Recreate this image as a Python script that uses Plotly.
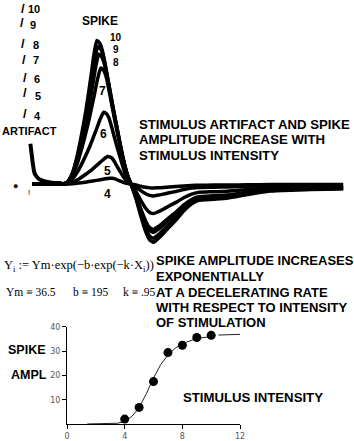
import plotly.graph_objects as go

W, H = 354, 441

# ---------------- top panel: evoked responses ----------------
intensities = [4, 5, 6, 7, 8, 9, 10]
spike_amp = [6, 28, 73, 118, 132, 140, 146]       # spike peak height per intensity
spike_peak_time = [109, 107, 103, 100, 98, 97, 96]  # time of spike peak per intensity
trough_depth = [4, 12, 30, 46, 49, 55, 59]        # after-trough depth per intensity

resp_time = [30, 40, 50, 60, 65, 70, 75, 80, 85, 90, 93, 96, 99, 102, 106, 110,
             113, 117, 121, 125, 128, 131, 136, 141, 146, 150, 154, 158, 164,
             170, 177, 185, 193, 200, 215, 230, 250, 273, 300, 330, 348]
spike_shape = [0, 0, 0, 0, 0.01, 0.06, 0.17, 0.33, 0.52, 0.75, 0.9, 1.0, 0.98,
               0.92, 0.78, 0.63, 0.52, 0.38, 0.24, 0.12, 0.05, 0] + [0] * 19
trough_shape = [0] * 22 + [0.25, 0.55, 0.82, 0.96, 1.0, 0.95, 0.85, 0.74, 0.62,
                           0.46, 0.34, 0.28, 0.26, 0.24, 0.18, 0.12, 0.10, 0.09, 0.08]
template_peak_time = 96

artifact_time = [28, 29, 30.5, 32, 34, 37, 42, 50, 60]
artifact_amp = [41, 33, 21, 12, 8, 5, 3, 1.5, 1]

# ---------------- bottom panel: input/output curve ----------------
stim_x = [4, 5, 6, 7, 8, 9, 10]
stim_y = [2.1, 6.9, 17.5, 29.4, 32.4, 35.6, 36.5]
fit_x = [1.4, 3.5, 4.0, 4.5, 5.0, 5.5, 6.0, 6.5, 7.0, 7.5, 8.0, 9.0, 10.0, None, 10.5, 12.0]
fit_y = [0.1, 0.4, 1.2, 3.2, 6.8, 12.5, 19.0, 24.5, 28.4, 31.2, 33.1, 35.2, 36.0, None, 36.6, 36.9]
x_ticks = [0, 4, 8, 12]
y_ticks = [10, 20, 30, 40]

fig = go.Figure()

for amp, pk, dep in zip(spike_amp, spike_peak_time, trough_depth):
    lag = pk - template_peak_time
    xs = [t + lag * s for t, s in zip(resp_time, spike_shape)]
    ys = [amp * s - dep * t for s, t in zip(spike_shape, trough_shape)]
    fig.add_trace(go.Scatter(x=xs, y=ys, mode="lines",
                             line=dict(color="black", width=3.5, shape="spline", smoothing=0.5),
                             xaxis="x", yaxis="y", hoverinfo="skip"))
fig.add_trace(go.Scatter(x=artifact_time, y=artifact_amp, mode="lines",
                         line=dict(color="black", width=4, shape="spline", smoothing=0.5),
                         xaxis="x", yaxis="y", hoverinfo="skip"))

fig.add_trace(go.Scatter(x=fit_x, y=fit_y, mode="lines",
                         line=dict(color="#222", width=1),
                         xaxis="x2", yaxis="y2", cliponaxis=False, connectgaps=False))
fig.add_trace(go.Scatter(x=stim_x, y=stim_y, mode="markers",
                         marker=dict(color="black", size=9),
                         xaxis="x2", yaxis="y2", cliponaxis=False))


def X(px):
    return px / W


def Y(py):
    return 1 - py / H


ann = []


def txt(s, x, y, size=13, family="Liberation Sans", bold=True, xanchor="left", color="black"):
    ann.append(dict(text=("<b>%s</b>" % s) if bold else s, x=X(x), y=Y(y),
                    xref="paper", yref="paper", xanchor=xanchor, yanchor="middle",
                    showarrow=False, font=dict(size=size, family=family, color=color)))


# top-left artifact tips
tips = [("10", 20, 5, 31.5, 5.5), ("9", 19.5, 19, 30.5, 21), ("8", 20, 40, 34, 42),
        ("7", 21, 56, 34, 57), ("6", 23, 75, 35, 76), ("5", 22.5, 90, 35.5, 93),
        ("4", 23, 111, 35.5, 114)]
for n, sx, sy, nx, ny in tips:
    txt("/", sx, sy, size=13, xanchor="center")
    txt(n, nx, ny, size=11, xanchor="center")
txt("ARTIFACT", -3, 129, size=11)
txt("SPIKE", 99, 17.5, size=12, xanchor="center")
txt("10", 116, 34, size=10, xanchor="center")
txt("9", 115.5, 46, size=10, xanchor="center")
txt("8", 115.5, 59, size=10, xanchor="center")
txt("7", 102, 88, size=12, xanchor="center")
txt("6", 103, 132, size=12, xanchor="center")
txt("5", 107, 170, size=12, xanchor="center")
txt("4", 107, 193.5, size=12, xanchor="center")
txt("●", 13, 185, size=9, bold=False, xanchor="center")
txt("!", 26.5, 192, size=8, bold=False, xanchor="center")

for s, y in [("STIMULUS ARTIFACT AND SPIKE", 122), ("AMPLITUDE INCREASE WITH", 138),
             ("STIMULUS INTENSITY", 154)]:
    txt(s, 137, y, size=13.2)

txt("Y<sub>i</sub> := Ym·exp(−b·exp(−k·X<sub>i</sub>))", -1, 266, size=12.5,
    family="Liberation Serif", bold=False)
txt("Ym ≡ 36.5", 1, 293, size=11.5, family="Liberation Serif", bold=False)
txt("b ≡ 195", 70, 293, size=11.5, family="Liberation Serif", bold=False)
txt("k ≡ .95", 121, 293, size=11.5, family="Liberation Serif", bold=False)

for s, x, y in [("SPIKE AMPLITUDE INCREASES", 154, 261), ("EXPONENTIALLY", 155, 277),
                ("AT A DECELERATING RATE", 155, 293.5), ("WITH RESPECT TO INTENSITY", 154, 308.5),
                ("OF STIMULATION", 154, 324)]:
    txt(s, x, y, size=13)

txt("SPIKE", 3, 352, size=12.5)
txt("AMPL", 6, 377, size=12.5)
txt("STIMULUS INTENSITY", 182, 400, size=13.2)

fig.update_layout(
    width=W, height=H, margin=dict(l=0, r=0, t=0, b=0),
    paper_bgcolor="white", plot_bgcolor="white", showlegend=False,
    xaxis=dict(domain=[0, 1], range=[0, W], visible=False, fixedrange=True),
    yaxis=dict(domain=[1 - 260 / H, 1], range=[183 - 260, 183], visible=False, fixedrange=True),
    xaxis2=dict(domain=[X(65.5), X(242.5)], range=[0, 12], anchor="y2",
                showline=True, linecolor="black", linewidth=1, showgrid=False, zeroline=False,
                ticks="outside", ticklen=4, tickcolor="black", tickvals=x_ticks,
                tickfont=dict(size=8, color="#555", family="DejaVu Sans")),
    yaxis2=dict(domain=[Y(427), Y(328)], range=[0, 40], anchor="x2",
                showline=True, linecolor="black", linewidth=1, showgrid=False, zeroline=False,
                ticks="outside", ticklen=4, tickcolor="black", tickvals=y_ticks,
                tickfont=dict(size=8, color="#555", family="DejaVu Sans")),
    annotations=ann,
)

fig.write_html("out.html")
